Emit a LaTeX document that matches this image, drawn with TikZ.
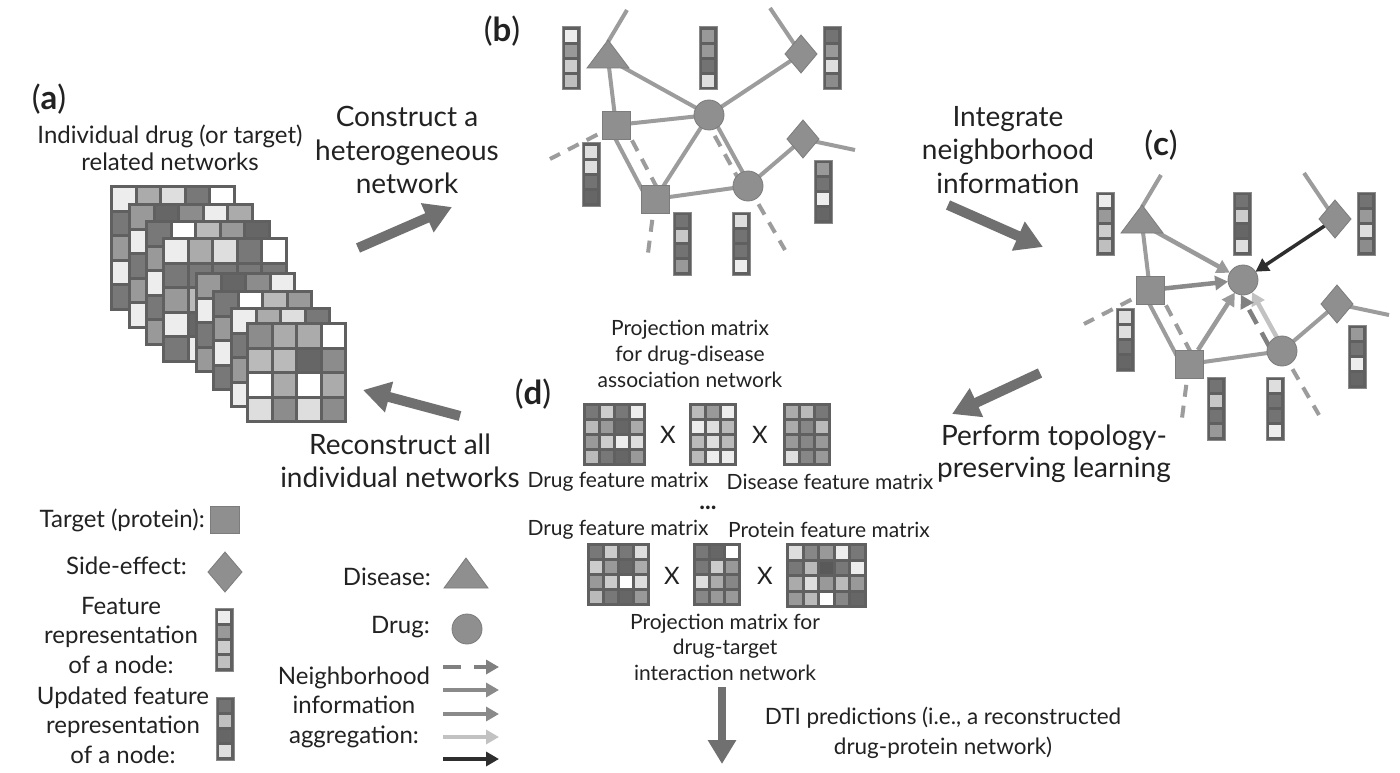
\documentclass[tikz,border=0pt]{standalone}
\usepackage{fontspec}
\setmainfont{Lato}
\usetikzlibrary{shapes.geometric,arrows.meta,calc}
\pgfdeclarelayer{bg}
\pgfsetlayers{bg,main}
\definecolor{txt}{HTML}{222222}
\definecolor{nodefill}{HTML}{8F8F8F}
\definecolor{nodeline}{HTML}{7C7C7C}
\definecolor{edgec}{HTML}{9C9C9C}
\definecolor{bigarr}{HTML}{707070}
\definecolor{matbg}{HTML}{606060}
\definecolor{vecline}{HTML}{8A8A8A}
\definecolor{agA}{HTML}{9A9A9A}
\definecolor{agB}{HTML}{8A8A8A}
\definecolor{agC}{HTML}{808080}
\definecolor{agD}{HTML}{C2C2C2}
\definecolor{agE}{HTML}{2E2E2E}
\tikzset{
  txtbig/.style={font=\fontsize{28pt}{33.5pt}\selectfont, text=txt, align=center, inner sep=0pt},
  txtmid/.style={font=\fontsize{24pt}{29.5pt}\selectfont, text=txt, align=center, inner sep=0pt},
  txtsmall/.style={font=\fontsize{21pt}{26pt}\selectfont, text=txt, align=center, inner sep=0pt},
  panellbl/.style={font=\fontsize{33pt}{34pt}\selectfont, text=txt, inner sep=0pt},
  shapebase/.style={fill=nodefill, draw=nodeline, line width=0.8pt, inner sep=0pt, outer sep=0pt},
  sqnode/.style={shapebase, rectangle, minimum size=28pt},
  drugnode/.style={shapebase, circle, minimum size=30pt},
  sidenode/.style={shapebase, diamond, minimum width=32pt, minimum height=38pt},
  nodept/.style={inner sep=0pt, minimum size=0pt, outer sep=0pt},
  edgeline/.style={draw=edgec, line width=4pt},
  dashedge/.style={draw=edgec, line width=4pt, dash pattern=on 12pt off 9pt},
  bigarrow/.style={draw=bigarr, line width=10pt, -{Triangle[length=27pt, width=30pt]}},
  aggr/.style={line width=4.5pt, -{Triangle[length=13pt, width=14pt]}},
}
% feature vector bar: x, y, list of 4 grey levels
\newcommand{\fvec}[3]{%
  \filldraw[fill=matbg, draw=vecline, line width=1pt] (#1,#2) rectangle ++(18,63);
  \foreach \gv [count=\k from 0] in {#3} {
    \fill[white!\gv!black] ({#1+3},{#2+3+\k*15}) rectangle ++(12,12);
  }
}
% matrix: x, y, cols, rows, pitch, list
\newcommand{\drawmat}[6]{%
  \fill[matbg] (#1,#2) rectangle ++({#3*#5+3},{#4*#5+3});
  \foreach \gv [count=\k from 0] in {#6} {
    \pgfmathtruncatemacro\cx{mod(\k,#3)}
    \pgfmathtruncatemacro\cy{div(\k,#3)}
    \fill[white!\gv!black] ({#1+3+\cx*#5},{#2+3+\cy*#5}) rectangle ++({#5-3},{#5-3});
  }
}
% stacked network layer: x, y, n, seed
\newcommand{\netlayer}[4]{%
  \fill[matbg] (#1,#2) rectangle ++({#3*24.5+3},{#3*24.5+3});
  \foreach \ii in {1,...,#3}{
    \foreach \jj in {1,...,#3}{
      \pgfmathtruncatemacro\gv{{40,60,73,100,47,87,67,93,55}[mod(\ii*5+\jj*7+#4*3+\ii*\jj,9)]}
      \fill[white!\gv!black] ({#1+3+(\jj-1)*24.5},{#2+3+(\ii-1)*24.5}) rectangle ++(21.5,21.5);
    }
  }
}
% network nodes (drawn in shifted scope)
\newcommand{\netnodes}[1]{%
  \node[nodept] (#1-tri) at (608,59) {};
  \coordinate (#1-apex) at (608,42);
  \filldraw[shapebase] (608,40) -- (629,68) -- (587,68) -- cycle;
  \node[sidenode] (#1-d1) at (801,54) {};
  \node[drugnode] (#1-c1) at (709,115) {};
  \node[sqnode] (#1-sq1) at (616,125) {};
  \node[sqnode] (#1-sq2) at (655,199) {};
  \node[drugnode] (#1-c2) at (748,186) {};
  \node[sidenode] (#1-d2) at (803,139) {};
  \coordinate (#1-e1) at (627,10);
  \coordinate (#1-e2) at (770,8);
  \coordinate (#1-e3) at (855,150);
  \coordinate (#1-e4) at (550,159);
  \coordinate (#1-e5) at (648,253);
  \coordinate (#1-e6) at (785,250);
}
\newcommand{\commonedges}[1]{%
  \draw[edgeline] (#1-tri) -- (#1-sq1.center);
  \draw[edgeline] (#1-apex) -- (#1-e1);
  \draw[edgeline] (#1-d1.center) -- (#1-e2);
  \draw[edgeline] ($(#1-sq1.center)!7pt!-90:(#1-sq2.center)$) -- ($(#1-sq2.center)!7pt!90:(#1-sq1.center)$);
  \draw[dashedge] ($(#1-sq1.center)!7pt!90:(#1-sq2.center)$) -- ($(#1-sq2.center)!7pt!-90:(#1-sq1.center)$);
  \draw[dashedge] (#1-sq1.center) -- (#1-e4);
  \draw[edgeline] (#1-sq2.center) -- (#1-c2.center);
  \draw[dashedge] (#1-sq2.center) -- (#1-e5);
  \draw[edgeline] (#1-c2.center) -- (#1-d2.center);
  \draw[edgeline] (#1-d2.center) -- (#1-e3);
  \draw[dashedge] (#1-c2.center) -- (#1-e6);
}
\begin{document}
\begin{tikzpicture}[x=1pt,y=-1pt]
\useasboundingbox (0,0) rectangle (1400,773);
\begin{pgfonlayer}{bg}
  \fill[white] (0,0) rectangle (1400,773);
\end{pgfonlayer}

% ---------------- (a) ----------------
\node[panellbl] (pa) at (49,99) {(\textbf{a})};
\node[txtmid, font=\fontsize{24pt}{27pt}\selectfont] (atxt) at (170,148) {Individual drug (or target)\\related networks};
\netlayer{110}{185}{5}{1}
\netlayer{128}{203}{5}{2}
\netlayer{145}{220}{5}{3}
\netlayer{162}{237}{5}{4}
\netlayer{195}{272}{4}{5}
\netlayer{212}{290}{4}{6}
\netlayer{230}{307}{4}{7}
\drawmat{246}{322}{4}{4}{24.5}{55,67,67,100, 73,73,40,55, 100,67,100,67, 87,55,87,55}

% ---------------- (b) ----------------
\node[panellbl] (pb) at (502,31) {(\textbf{b})};
\begin{scope}
  \netnodes{b}
  \fvec{562}{27}{93,60,80,75}
  \fvec{699}{27}{60,60,45,87}
  \fvec{823}{27}{45,60,87,55}
  \fvec{582}{143}{87,87,45,40}
  \fvec{673}{212}{45,78,45,60}
  \fvec{732}{212}{87,45,45,93}
  \fvec{814}{160}{60,45,93,40}
\end{scope}
\begin{pgfonlayer}{bg}
  \commonedges{b}
  \draw[edgeline] (b-tri) -- (b-c1.center);
  \draw[edgeline] (b-sq1.center) -- (b-c1.center);
  \draw[edgeline] (b-c1.center) -- (b-d1.center);
  \draw[edgeline] (b-sq2.center) -- (b-c1.center);
  \draw[edgeline] ($(b-c1.center)!2pt!90:(b-c2.center)$) -- ($(b-c2.center)!2pt!-90:(b-c1.center)$);
  \draw[dashedge] ($(b-c1.center)!5pt!-90:(b-c2.center)$) -- ($(b-c2.center)!5pt!90:(b-c1.center)$);
\end{pgfonlayer}

% ---------------- (c) ----------------
\node[panellbl] (pc) at (1161,145) {(\textbf{c})};
\begin{scope}[shift={(534,165)}]
  \netnodes{c}
  \fvec{562}{27}{93,60,80,75}
  \fvec{699}{27}{45,80,40,87}
  \fvec{823}{27}{45,60,87,55}
  \fvec{582}{143}{87,87,45,40}
  \fvec{673}{212}{45,78,45,60}
  \fvec{732}{212}{87,45,45,93}
  \fvec{814}{160}{60,45,93,40}
\end{scope}
\begin{pgfonlayer}{bg}
  \commonedges{c}
  \draw[aggr, draw=agA] (c-tri) -- (c-c1);
  \draw[aggr, draw=agB] (c-sq1) -- (c-c1);
  \draw[aggr, draw=agA] (c-sq2) -- (c-c1);
  \draw[aggr, draw=agD, shorten <=14pt, shorten >=15pt] ($(c-c2.center)!2pt!-90:(c-c1.center)$) -- ($(c-c1.center)!2pt!90:(c-c2.center)$);
  \draw[aggr, draw=agC, dash pattern=on 16pt off 10pt, shorten <=10pt, shorten >=12pt] ($(c-c2.center)!9pt!90:(c-c1.center)$) -- ($(c-c1.center)!9pt!-90:(c-c2.center)$);
  \draw[aggr, draw=agE, line width=3.5pt] (c-d1) -- (c-c1);
\end{pgfonlayer}

% ---------------- (d) ----------------
\node[panellbl] (pd) at (533,394) {(\textbf{d})};
\node[txtsmall] (proj1) at (690,354) {Projection matrix\\for drug-disease\\association network};
\drawmat{583}{403}{4}{4}{15}{47,80,47,93, 73,60,40,67, 60,80,93,87, 73,47,40,60}
\node[txtbig, font=\fontsize{24pt}{24pt}\selectfont] (x1) at (668,435) {X};
\drawmat{689}{403}{3}{4}{15}{73,60,93, 93,87,73, 73,87,73, 73,93,93}
\node[txtbig, font=\fontsize{24pt}{24pt}\selectfont] (x2) at (760,435) {X};
\drawmat{783}{403}{3}{4}{15}{67,73,47, 67,53,73, 60,53,60, 87,53,60}
\node[txtsmall] (dfm1) at (618,482) {Drug feature matrix};
\node[txtsmall] (disfm) at (830,482) {Disease feature matrix};
\node[txtsmall, font=\bfseries\fontsize{24pt}{24pt}\selectfont] (dots) at (708,508) {...};
\node[txtsmall] (dfm2) at (618,530) {Drug feature matrix};
\node[txtsmall] (pfm) at (829,530) {Protein feature matrix};
\drawmat{587}{543}{4}{4}{15}{47,80,47,87, 80,60,40,67, 60,80,100,87, 73,47,40,60}
\node[txtbig, font=\fontsize{24pt}{24pt}\selectfont] (x3) at (672,576) {X};
\drawmat{693}{543}{3}{4}{15}{47,40,100, 47,80,60, 87,67,53, 53,60,60}
\node[txtbig, font=\fontsize{24pt}{24pt}\selectfont] (x4) at (765,576) {X};
\drawmat{786}{543}{5}{4}{15.5}{87,53,60,93,47, 47,73,35,47,93, 67,87,60,73,60, 60,73,100,53,40}
\node[txtsmall, font=\fontsize{21pt}{25.5pt}\selectfont] (proj2) at (725,647) {Projection matrix for\\drug-target\\interaction network};
\node[txtsmall, font=\fontsize{22.5pt}{30pt}\selectfont] (dti) at (943,733) {DTI predictions (i.e., a reconstructed\\drug-protein network)};

% ---------------- step texts ----------------
\node[txtbig] (construct) at (407,150) {Construct a\\heterogeneous\\network};
\node[txtbig] (integrate) at (1008,150) {Integrate\\neighborhood\\information};
\node[txtbig, font=\fontsize{28pt}{32pt}\selectfont] (perform) at (1054,454) {Perform topology-\\preserving learning};
\node[txtbig, font=\fontsize{28pt}{33pt}\selectfont] (reconstruct) at (400,461) {Reconstruct all\\individual networks};

% ---------------- big arrows ----------------
\coordinate (ab-s) at (358,248); \coordinate (ab-e) at (452,207);
\coordinate (bc-s) at (948,205); \coordinate (bc-e) at (1043,247);
\coordinate (cd-s) at (1040,373); \coordinate (cd-e) at (952,414);
\coordinate (da-s) at (460,416); \coordinate (da-e) at (363,390);
\coordinate (dn-s) at (722,687); \coordinate (dn-e) at (722,764);
\draw[bigarrow] (ab-s) -- (ab-e);
\draw[bigarrow] (bc-s) -- (bc-e);
\draw[bigarrow] (cd-s) -- (cd-e);
\draw[bigarrow] (da-s) -- (da-e);
\draw[bigarrow, line width=8.5pt, -{Triangle[length=24pt, width=27pt]}] (dn-s) -- (dn-e);

% ---------------- legend ----------------
\node[sqnode, minimum width=29pt, minimum height=27pt] (lg-sq) at (225,520) {};
\node[txtmid, anchor=east] (lg-sqt) at (205,520) {Target (protein):};
\node[sidenode, minimum width=34pt, minimum height=40pt] (lg-dia) at (225,572) {};
\node[txtmid, anchor=east] (lg-diat) at (187,566) {Side-effect:};
\node[txtmid] (lg-fvt) at (121,635) {Feature\\representation\\of a node:};
\fvec{215}{608}{93,60,80,75}
\node[txtmid] (lg-uvt) at (123,725) {Updated feature\\representation\\of a node:};
\fvec{216}{697}{45,75,40,87}
\node[nodept] (lg-tri) at (466,578) {};
\filldraw[shapebase] (466,558) -- (488,588) -- (444,588) -- cycle;
\node[txtmid, anchor=east] (lg-trit) at (431,577) {Disease:};
\node[drugnode] (lg-drug) at (467,629) {};
\node[txtmid, anchor=east] (lg-drugt) at (430,627) {Drug:};
\node[txtmid] (lg-agg) at (354,707) {Neighborhood\\information\\aggregation:};
\coordinate (la1s) at (443,667); \coordinate (la1e) at (499,667);
\coordinate (la2s) at (443,690); \coordinate (la2e) at (499,690);
\coordinate (la3s) at (443,714); \coordinate (la3e) at (499,714);
\coordinate (la4s) at (443,737); \coordinate (la4e) at (499,737);
\coordinate (la5s) at (443,759); \coordinate (la5e) at (499,759);
\draw[aggr, draw=agC, dash pattern=on 18pt off 13pt] (la1s) -- (la1e);
\draw[aggr, draw=agB] (la2s) -- (la2e);
\draw[aggr, draw=agB] (la3s) -- (la3e);
\draw[aggr, draw=agD] (la4s) -- (la4e);
\draw[aggr, draw=agE] (la5s) -- (la5e);
\end{tikzpicture}
\end{document}
